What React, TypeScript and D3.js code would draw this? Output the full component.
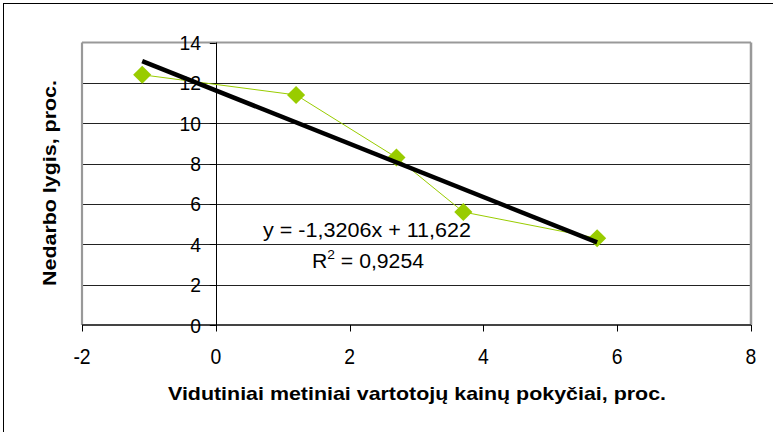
import React from "react";
import * as d3 from "d3";

const xValues = [-1.1, 1.2, 2.7, 3.7, 5.7];
const yValues = [12.4, 11.4, 8.3, 5.6, 4.3];
const xTicks = [-2, 0, 2, 4, 6, 8];
const yTicks = [0, 2, 4, 6, 8, 10, 12, 14];
const trendSlope = -1.3206;
const trendIntercept = 11.622;
const equationText = "y = -1,3206x + 11,622";
const r2Text = "0,9254";
const xTitle = "Vidutiniai metiniai vartotojų kainų pokyčiai, proc.";
const yTitle = "Nedarbo lygis, proc.";

const W = 773;
const H = 432;
const left = 82;
const right = 751;
const top = 42.5;
const bottom = 325;
const font = "'Liberation Sans', Arial, sans-serif";
const green = "#99CC00";

export default function App() {
  const x = d3.scaleLinear().domain([-2, 8]).range([left, right]);
  const y = d3.scaleLinear().domain([0, 14]).range([bottom, top]);
  const pts = xValues.map((v, i) => [v, yValues[i]] as [number, number]);
  const line = d3
    .line<[number, number]>()
    .x((d) => x(d[0]))
    .y((d) => y(d[1]));
  const xMin = d3.min(xValues) as number;
  const xMax = d3.max(xValues) as number;
  const trend: [number, number][] = [
    [xMin, trendSlope * xMin + trendIntercept],
    [xMax, trendSlope * xMax + trendIntercept],
  ];
  const diamond = d3.symbol().type(d3.symbolDiamond2).size(210)();

  return (
    <svg
      width={W}
      height={H}
      style={{ position: "absolute", left: 0, top: 0, background: "#fff" }}
    >
      <rect x={0} y={0} width={W} height={H} fill="#fff" />
      <rect x={3.5} y={3.5} width={W + 20} height={H + 20} fill="none" stroke="#000" strokeWidth={1} />

      {/* gridlines */}
      {yTicks
        .filter((t) => t > 0 && t < 14)
        .map((t) => (
          <line key={"g" + t} x1={left} x2={right} y1={Math.round(y(t)) + 0.5} y2={Math.round(y(t)) + 0.5} stroke="#222" strokeWidth={1} />
        ))}
      {/* plot border */}
      <line x1={left} x2={right} y1={top} y2={top} stroke="#999" strokeWidth={2.2} />
      <line x1={left} x2={left} y1={top} y2={bottom} stroke="#999" strokeWidth={2.2} />
      <line x1={right} x2={right} y1={top} y2={bottom} stroke="#999" strokeWidth={2.5} />
      {/* x axis */}
      <line x1={left} x2={right} y1={bottom} y2={bottom} stroke="#444" strokeWidth={2} />
      {xTicks.map((t) => (
        <g key={"xt" + t}>
          <line x1={Math.round(x(t)) + 0.5} x2={Math.round(x(t)) + 0.5} y1={bottom} y2={bottom + 6.5} stroke="#000" strokeWidth={1} />
          <text
            transform={`translate(${x(t)},364) scale(0.9,1)`}
            textAnchor="middle"
            fontFamily={font}
            fontSize={21.5}
            fill="#000"
          >
            {t}
          </text>
        </g>
      ))}
      {/* y axis at x=0 */}
      <line x1={Math.round(x(0)) + 0.5} x2={Math.round(x(0)) + 0.5} y1={top} y2={bottom} stroke="#000" strokeWidth={1} />
      {yTicks.map((t) => (
        <g key={"yt" + t}>
          <line x1={x(0) - 6} x2={x(0)} y1={Math.round(y(t)) + 0.5} y2={Math.round(y(t)) + 0.5} stroke="#000" strokeWidth={1} />
          <text
            transform={`translate(201,${y(t) + 7.5}) scale(0.92,1)`}
            textAnchor="end"
            fontFamily={font}
            fontSize={21}
            fill="#000"
          >
            {t}
          </text>
        </g>
      ))}

      {/* series */}
      <path d={line(pts) as string} fill="none" stroke={green} strokeWidth={1} />
      {pts.map((p, i) => (
        <path key={"m" + i} d={diamond as string} transform={`translate(${x(p[0])},${y(p[1])})`} fill={green} />
      ))}
      <path d={line(trend) as string} fill="none" stroke="#000" strokeWidth={4.5} />

      {/* equation */}
      <text x={263} y={237} fontFamily={font} fontSize={20} fill="#000" textLength={208} lengthAdjust="spacingAndGlyphs">
        {equationText}
      </text>
      <text x={312} y={268} fontFamily={font} fontSize={20} fill="#000" textLength={112} lengthAdjust="spacingAndGlyphs">
        R
        <tspan fontSize={13} dy={-9}>2</tspan>
        <tspan dy={9}>{" = " + r2Text}</tspan>
      </text>

      {/* titles */}
      <text x={168} y={400} fontFamily={font} fontWeight="bold" fontSize={19} fill="#000" textLength={498} lengthAdjust="spacingAndGlyphs">
        {xTitle}
      </text>
      <text
        transform="translate(56,286) rotate(-90)"
        x={0}
        y={0}
        fontFamily={font}
        fontWeight="bold"
        fontSize={19}
        fill="#000"
        textLength={206}
        lengthAdjust="spacingAndGlyphs"
      >
        {yTitle}
      </text>
    </svg>
  );
}
